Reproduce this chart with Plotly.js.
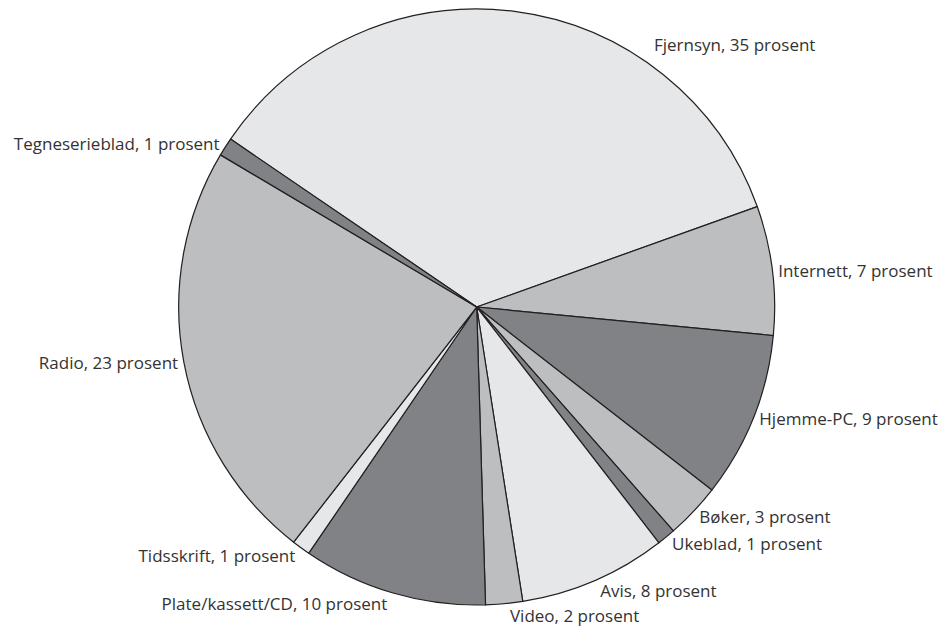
<!DOCTYPE html>
<html><head><meta charset="utf-8">
<script src="https://cdn.plot.ly/plotly-3.0.1.min.js"></script>
<style>html,body{margin:0;padding:0;background:#fff}#chart{width:939px;height:631px}</style>
</head><body><div id="chart"></div>
<script>
const categories = ["Fjernsyn","Internett","Hjemme-PC","Bøker","Ukeblad","Avis","Video","Plate/kassett/CD","Tidsskrift","Radio","Tegneserieblad"];
const values = [35,7,9,3,1,8,2,10,1,23,1];
const sliceColors = ["#e6e7e8","#bcbec0","#808285","#bcbec0","#808285","#e6e7e8","#bcbec0","#808285","#e6e7e8","#bcbec0","#808285"];

const FONT = {family: "Open Sans, Noto Sans, sans-serif", size: 17, color: "#333333"};
const labelText = (i) => categories[i] + ", " + values[i] + " prosent";

// The largest slice's label is drawn as an annotation (top-right of the pie), the rest by Plotly
const textpos = categories.map((c, i) => i === 0 ? "none" : "outside");

const trace = {
  type: "pie",
  labels: categories,
  values: values,
  sort: false,
  direction: "clockwise",
  rotation: -55.7,
  marker: {colors: sliceColors, line: {color: "#231f20", width: 1.2}},
  texttemplate: "%{label}, %{value} prosent",
  textposition: textpos,
  textfont: FONT,
  hoverinfo: "label+value",
  showlegend: false,
  automargin: false,
  domain: {x: [0.1903, 0.8250], y: [0.0412, 0.9857]}
};
Plotly.newPlot("chart", [trace], {
  width: 939, height: 631,
  margin: {l: 0, r: 0, t: 0, b: 0},
  paper_bgcolor: "#ffffff",
  showlegend: false,
  annotations: [{
    text: labelText(0), xref: "paper", yref: "paper",
    x: 0.782, y: 0.930, xanchor: "center", yanchor: "middle",
    showarrow: false, font: FONT
  }]
}, {displayModeBar: false, staticPlot: true});
</script></body></html>
